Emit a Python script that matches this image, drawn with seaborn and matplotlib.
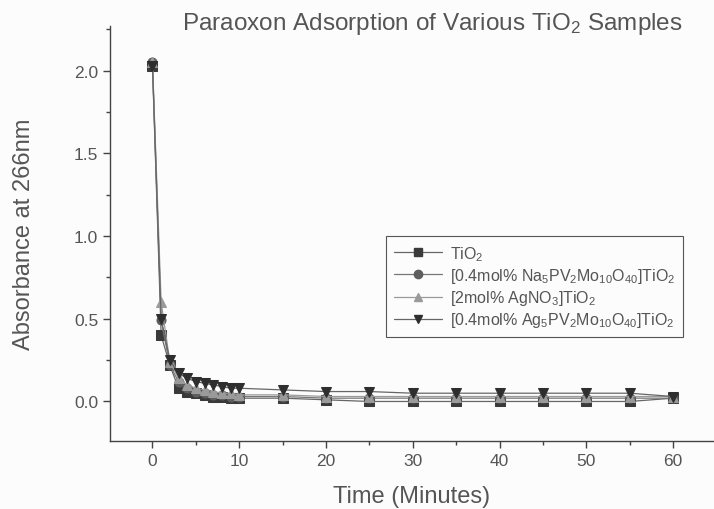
"""Paraoxon adsorption on TiO2 samples - absorbance vs time."""

import numpy as np
import pandas as pd
import matplotlib
matplotlib.use("Agg")
import matplotlib.pyplot as plt
from matplotlib.ticker import MultipleLocator
from matplotlib.lines import Line2D
import seaborn as sns

# ---------------------------------------------------
# DATA
# ---------------------------------------------------

time_min = [0, 1, 2, 3, 4, 5, 6, 7, 8, 9, 10, 15, 20, 25, 30, 35, 40, 45, 50, 55, 60]

tio2 = [2.03, 0.40, 0.22, 0.08, 0.06, 0.05, 0.04, 0.03, 0.03, 0.02, 0.02,
        0.02, 0.01, 0.00, 0.00, 0.00, 0.00, 0.00, 0.00, 0.00, 0.02]
na_pom = [2.05, 0.49, 0.22, 0.12, 0.08, 0.06, 0.05, 0.04, 0.04, 0.03, 0.03,
          0.03, 0.02, 0.02, 0.02, 0.02, 0.02, 0.02, 0.02, 0.02, 0.02]
agno3 = [2.05, 0.60, 0.24, 0.14, 0.10, 0.08, 0.07, 0.06, 0.05, 0.05, 0.04,
         0.04, 0.03, 0.03, 0.03, 0.03, 0.03, 0.03, 0.03, 0.03, 0.03]
ag_pom = [2.03, 0.50, 0.25, 0.17, 0.14, 0.12, 0.11, 0.10, 0.09, 0.08, 0.08,
          0.07, 0.06, 0.06, 0.05, 0.05, 0.05, 0.05, 0.05, 0.05, 0.03]

labels = [
    r"TiO$_2$",
    r"[0.4mol% Na$_5$PV$_2$Mo$_{10}$O$_{40}$]TiO$_2$",
    r"[2mol% AgNO$_3$]TiO$_2$",
    r"[0.4mol% Ag$_5$PV$_2$Mo$_{10}$O$_{40}$]TiO$_2$",
]
series = [tio2, na_pom, agno3, ag_pom]
markers = ["s", "o", "^", "v"]
marker_colors = ["#3a3a3a", "#5e5e5e", "#9a9a9a", "#2e2e2e"]
line_colors = ["#666666", "#777777", "#9a9a9a", "#666666"]

rows = []
for lab, vals in zip(labels, series):
    for t, v in zip(time_min, vals):
        rows.append({"time": t, "absorbance": v, "sample": lab})
df = pd.DataFrame(rows)

# ---------------------------------------------------
# PLOT
# ---------------------------------------------------

sns.set_style("ticks")
plt.rcParams["font.family"] = ["Liberation Sans", "DejaVu Sans"]
plt.rcParams["mathtext.fontset"] = "custom"
plt.rcParams["mathtext.rm"] = "Liberation Sans"
plt.rcParams["mathtext.it"] = "Liberation Sans"

text_col = "#555555"

fig = plt.figure(figsize=(7.14, 5.10), dpi=100, facecolor="#fcfcfc")
ax = fig.add_axes([0.154, 0.133, 0.846, 0.814])
ax.set_facecolor("#fcfcfc")

for lab, mk, mc, lc in zip(labels, markers, marker_colors, line_colors):
    sub = df[df["sample"] == lab]
    sns.lineplot(
        data=sub, x="time", y="absorbance", ax=ax,
        color=lc, linewidth=0.9, marker=mk, markersize=6.5,
        markerfacecolor=mc, markeredgecolor=mc, legend=False,
    )

ax.set_xlim(-4.9, 64.7)
ax.set_ylim(-0.24, 2.27)
ax.xaxis.set_major_locator(MultipleLocator(10))
ax.xaxis.set_minor_locator(MultipleLocator(5))
ax.yaxis.set_major_locator(MultipleLocator(0.5))
ax.yaxis.set_minor_locator(MultipleLocator(0.25))
ax.yaxis.set_major_formatter(matplotlib.ticker.FormatStrFormatter("%.1f"))

ax.tick_params(which="major", direction="out", length=5, width=1,
               colors="#444444", labelcolor=text_col, labelsize=12.5)
ax.tick_params(which="minor", direction="out", length=3, width=1, colors="#444444")

sns.despine(ax=ax)
for s in ["left", "bottom"]:
    ax.spines[s].set_color("#444444")
    ax.spines[s].set_linewidth(1.0)

ax.set_xlabel("Time (Minutes)", fontsize=17, color=text_col, labelpad=12)
ax.set_ylabel("Absorbance at 266nm", fontsize=17, color=text_col, labelpad=28)

fig.text(0.605, 0.952, r"Paraoxon Adsorption of Various TiO$_2$ Samples",
         ha="center", va="center", fontsize=17.5, color=text_col)

handles = [
    Line2D([0], [0], color=lc, linewidth=0.9, marker=mk, markersize=6,
           markerfacecolor=mc, markeredgecolor=mc)
    for mk, mc, lc in zip(markers, marker_colors, line_colors)
]
leg = ax.legend(handles, labels, loc="upper left",
                bbox_to_anchor=(0.457, 0.494), borderaxespad=0, fontsize=11.5,
                frameon=True, fancybox=False, handlelength=3.0,
                handletextpad=0.5, labelspacing=0.2, borderpad=0.5,
                labelcolor=text_col)
leg.get_frame().set_edgecolor("#555555")
leg.get_frame().set_linewidth(0.8)
leg.get_frame().set_facecolor("#fcfcfc")
leg.get_frame().set_alpha(1.0)

fig.savefig("out.png", dpi=100, facecolor=fig.get_facecolor())
